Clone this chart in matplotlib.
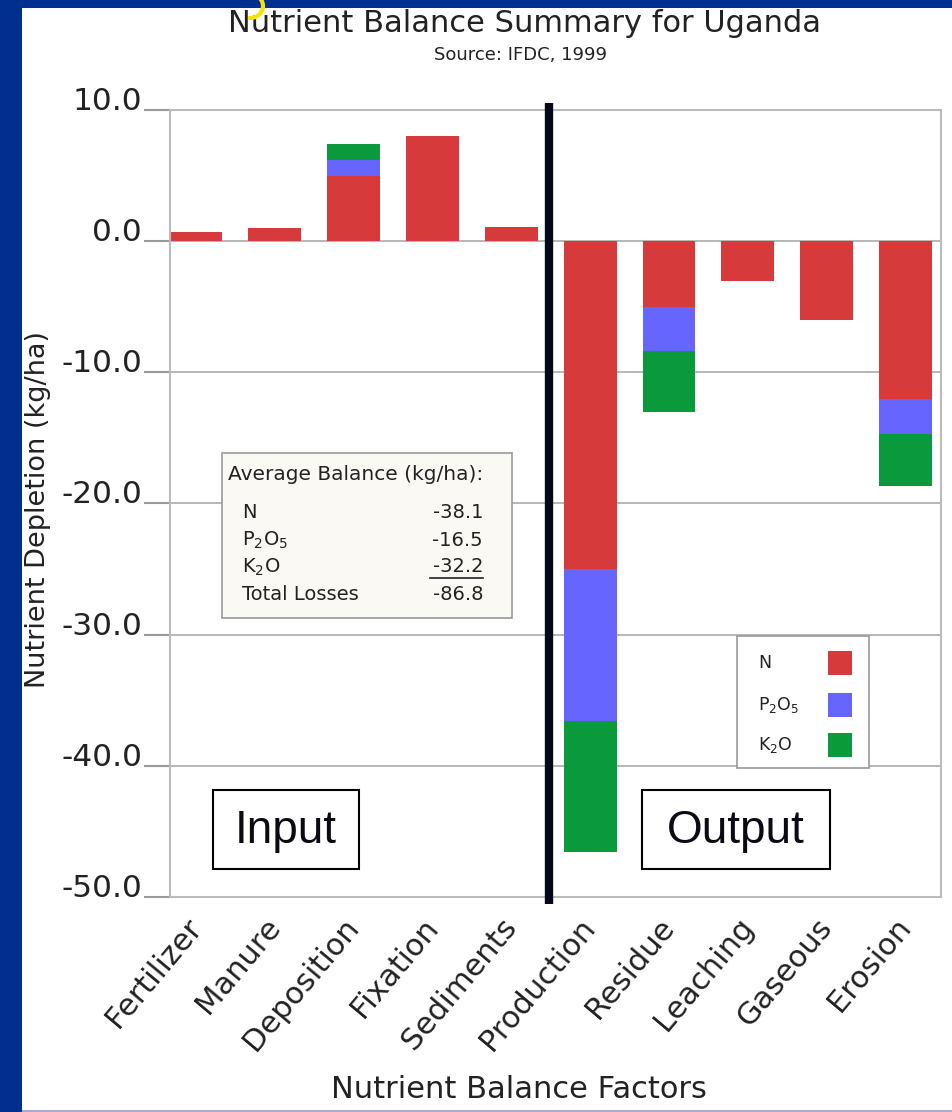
import numpy as np
import matplotlib
matplotlib.use("Agg")
import matplotlib.pyplot as plt
from matplotlib.patches import Rectangle, Arc
from matplotlib.lines import Line2D

W, H = 952, 1112

categories = ["Fertilizer", "Manure", "Deposition", "Fixation", "Sediments",
              "Production", "Residue", "Leaching", "Gaseous", "Erosion"]
n_vals = [0.7, 1.0, 5.0, 8.0, 1.1, -25.0, -5.0, -3.0, -6.0, -12.0]
p_vals = [0.0, 0.0, 1.2, 0.0, 0.0, -11.6, -3.4, 0.0, 0.0, -2.7]
k_vals = [0.0, 0.0, 1.2, 0.0, 0.0, -10.0, -4.6, 0.0, 0.0, -4.0]
y_ticks = [10, 0, -10, -20, -30, -40, -50]

nutrients = ["N", "P$_2$O$_5$", "K$_2$O"]
balance_rows = ["N", "P$_2$O$_5$", "K$_2$O", "Total Losses"]
balance_vals = ["-38.1", "-16.5", "-32.2", "-86.8"]

RED, BLUE, GREEN = "#D63A3A", "#6666FF", "#0A9A3C"


def px(x, y):
    return x / W, 1 - y / H


fig = plt.figure(figsize=(W / 100, H / 100), dpi=100)
fig.patch.set_facecolor("#00308F")
fig.patches.append(Rectangle(px(22, 1110), (W - 22) / W, 1102 / H,
                             transform=fig.transFigure, facecolor="white",
                             edgecolor="none", zorder=-10))
fig.patches.append(Rectangle(px(22, 1112), (W - 22) / W, 2 / H,
                             transform=fig.transFigure, facecolor="#A8A8D8",
                             edgecolor="none", zorder=-10))
# small yellow mark left over at the top of the slide
fig.patches.append(Arc(px(250, 6), 26 / W, 24 / H, theta1=-100, theta2=80,
                       transform=fig.transFigure, color="#F5E400", lw=3,
                       zorder=9))

ax = fig.add_axes([170 / W, 1 - 897 / H, (941 - 170) / W, (897 - 110) / H])
ax.set_facecolor("white")

x = np.arange(len(categories))
n = np.array(n_vals)
p = np.array(p_vals)
k = np.array(k_vals)
bars = []
bottom = np.zeros(len(categories))
for vals, col in [(n, RED), (p, BLUE), (k, GREEN)]:
    bars.append(ax.bar(x, vals, bottom=bottom, width=0.67, color=col,
                       linewidth=0, zorder=2))
    bottom = bottom + vals

ax.set_xlim(-0.33, 9.45)
ax.set_ylim(-50, 10)
ax.set_yticks(y_ticks)
ax.set_yticklabels([f"{v:.1f}" for v in y_ticks], fontsize=22.5, color="#222222")
for lab in ax.get_yticklabels():
    lab.set_va("baseline")
ax.tick_params(axis="y", length=19, width=1.5, color="#999999", pad=1)
ax.yaxis.grid(True, color="#AAAAAA", lw=1.2)
ax.set_axisbelow(True)

ax.set_xticks(x)
ax.set_xticklabels(categories, rotation=50, ha="right", va="center",
                   rotation_mode="anchor", fontsize=22, color="#222222")
ax.tick_params(axis="x", length=0, pad=18)

for s in ax.spines.values():
    s.set_color("#BBBBBB")
    s.set_linewidth(1.5)

# divider between inputs and outputs
ax.plot([4.48, 4.48], [10.53, -50.53], color="#05081A", lw=6, clip_on=False,
        solid_capstyle="butt", zorder=5)

fig.text(*px(525, 23), "Nutrient Balance Summary for Uganda", fontsize=22,
         ha="center", va="center", color="#222222")
fig.text(*px(520, 55), "Source: IFDC, 1999", fontsize=13, ha="center",
         va="center", color="#222222")
fig.text(*px(519, 1090), "Nutrient Balance Factors", fontsize=22,
         ha="center", va="center", color="#222222")
fig.text(*px(38, 510), "Nutrient Depletion (kg/ha)", fontsize=19.5,
         rotation=90, ha="center", va="center", color="#222222")

# average balance box
fig.patches.append(Rectangle(px(222, 618), (512 - 222) / W, (618 - 453) / H,
                             transform=fig.transFigure, facecolor="#FBF9F4",
                             edgecolor="#999999", lw=1.2, zorder=3))
fig.text(*px(228, 474), "Average Balance (kg/ha):", fontsize=14.5,
         ha="left", va="center", color="#222222", zorder=4)
row_y = [513, 540, 567, 595]
for lab, val, yy in zip(balance_rows, balance_vals, row_y):
    fig.text(*px(242, yy), lab, fontsize=14, ha="left", va="center",
             color="#222222", zorder=4)
    fig.text(*px(483, yy), val, fontsize=14, ha="right", va="center",
             color="#222222", zorder=4)
fig.lines.append(Line2D([430 / W, 483 / W], [1 - 578 / H, 1 - 578 / H],
                        transform=fig.transFigure, color="#222222", lw=1.2,
                        zorder=4))

# legend: labels on the left, colour swatches on the right
fig.patches.append(Rectangle(px(737, 768), (869 - 737) / W, (768 - 636) / H,
                             transform=fig.transFigure, facecolor="white",
                             edgecolor="#999999", lw=1.2, zorder=3))
for lab, bc, yy in zip(nutrients, bars, [663, 705, 745]):
    fig.text(*px(758, yy), lab, fontsize=12.5, ha="left", va="center",
             color="#222222", zorder=4)
    fig.patches.append(Rectangle(px(828, yy + 12), 24 / W, 24 / H,
                                 transform=fig.transFigure,
                                 facecolor=bc.patches[0].get_facecolor(),
                                 edgecolor="none", zorder=4))

# Input / Output boxes
for (x0, x1), label in [((213, 359), "Input"), ((642, 830), "Output")]:
    fig.patches.append(Rectangle(px(x0, 869), (x1 - x0) / W, (869 - 790) / H,
                                 transform=fig.transFigure, facecolor="white",
                                 edgecolor="black", lw=1.5, zorder=6))
    fig.text(*px((x0 + x1) / 2, 831), label, fontsize=33,
             family=["Liberation Sans", "DejaVu Sans"], ha="center",
             va="center", color="#0A0A14", zorder=7)

fig.savefig("out.png", dpi=100, facecolor=fig.get_facecolor())
